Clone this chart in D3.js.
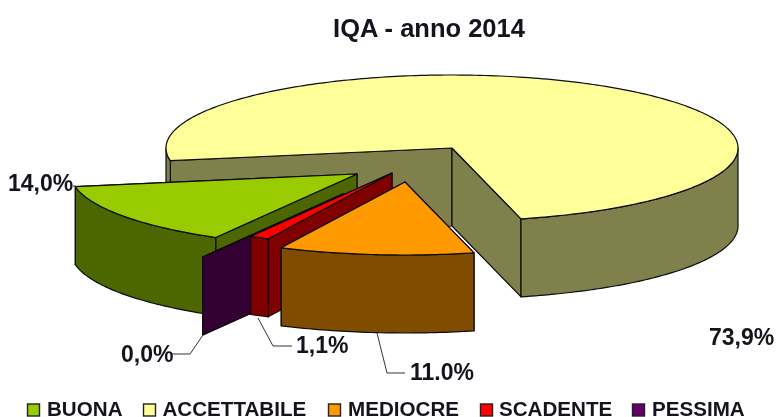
<!DOCTYPE html>
<html><head><meta charset="utf-8">
<script src="https://cdn.jsdelivr.net/npm/d3@7"></script>
<style>
html,body{margin:0;padding:0;background:#fff}
svg{display:block;filter:blur(0.35px)}
text{font-family:"Liberation Sans",Arial,sans-serif;font-weight:bold;fill:#14141c}
</style></head><body>
<svg id="c" width="776" height="417"></svg>
<script>
const categories=["BUONA","ACCETTABILE","MEDIOCRE","SCADENTE","PESSIMA"];
const values=[14.0,73.9,11.0,1.1,0.0];
const labels=["14,0%","73,9%","11.0%","1,1%","0,0%"];
const topColors=["#99CC00","#FFFF99","#FF9900","#FF0000","#660066"];
const sideColors=["#4C6600","#80804C","#804C00","#800000","#330033"];

// layout
const W=776,H=417,rx=286,ry=73,depth=78,cx=452,cy=148;
const explode=[[-95,26],[0,0],[-47,34],[-60,25],[-108,45.5]];
const drawOrder=[1,0,4,3,2];
const labelPos=[[8,191],[709,345],[410,380],[296,353],[121,362]];
const leaders=[[[73,186],[76,186]],null,[[377,333],[387,373],[405,373]],[[258,318],[273,346],[292,346]],[[203,335],[190,354],[172,354]]];
const legendSwatchX=[27.5,143.5,328.5,480.5,632.5];
const legendTextX=[47,162.5,348,499,652];

const svg=d3.select("#c");
const sx=d3.scaleLinear().domain([-1,1]).range([-rx,rx]);
const sy=d3.scaleLinear().domain([-1,1]).range([ry,-ry]);
const start=209.6*Math.PI/180;
const arcs=d3.pie().value(d=>d).sort(null).startAngle(start).endAngle(start+2*Math.PI)(values);
const line=d3.line();
const STEP=Math.PI/180;
const rim=(a,o)=>[cx+o[0]+sx(Math.sin(a)),cy+o[1]+sy(Math.cos(a))];
const sample=(a0,a1)=>{const n=Math.max(1,Math.ceil((a1-a0)/STEP));return d3.range(n+1).map(i=>a0+(a1-a0)*i/n);};
const strokeCol="#0c0c0c";

function poly(g,pts,fill,close=true){
  g.append("path").attr("d",line(pts)+(close?"Z":"")).attr("fill",fill)
   .attr("stroke",strokeCol).attr("stroke-width",1.2).attr("stroke-linejoin","round");
}

drawOrder.forEach(i=>{
  const d=arcs[i],o=explode[i],g=svg.append("g").attr("class","slice");
  const apex=[cx+o[0],cy+o[1]];
  [d.startAngle,d.endAngle].map(a=>rim(a,o)).sort((p,q)=>p[1]-q[1]).forEach(p=>{
    poly(g,[apex,p,[p[0],p[1]+depth],[apex[0],apex[1]+depth]],sideColors[i]);
  });
  [[Math.PI/2,3*Math.PI/2],[5*Math.PI/2,7*Math.PI/2]].forEach(([lo,hi])=>{
    const a0=Math.max(lo,d.startAngle),a1=Math.min(hi,d.endAngle);
    if(a1<=a0)return;
    const upper=sample(a0,a1).map(a=>rim(a,o));
    const lower=upper.slice().reverse().map(p=>[p[0],p[1]+depth]);
    poly(g,upper.concat(lower),sideColors[i]);
  });
  const top=[apex].concat(sample(d.startAngle,d.endAngle).map(a=>rim(a,o)));
  poly(g,top,topColors[i]);
});

// title
svg.append("text").attr("x",429).attr("y",36.5).attr("text-anchor","middle").attr("font-size",25.5).text("IQA - anno 2014");

// leader lines
leaders.forEach(l=>{ if(l) svg.append("path").attr("d",line(l)).attr("fill","none").attr("stroke","#333").attr("stroke-width",1); });

// data labels
labels.forEach((t,i)=>svg.append("text").attr("x",labelPos[i][0]).attr("y",labelPos[i][1]).attr("font-size",23).text(t));

// legend
categories.forEach((c,i)=>{
  svg.append("rect").attr("x",legendSwatchX[i]).attr("y",404).attr("width",12).attr("height",12)
    .attr("fill",topColors[i]).attr("stroke","#222").attr("stroke-width",1.4);
  svg.append("text").attr("x",legendTextX[i]).attr("y",416).attr("font-size",20.6).text(c);
});
</script></body></html>
